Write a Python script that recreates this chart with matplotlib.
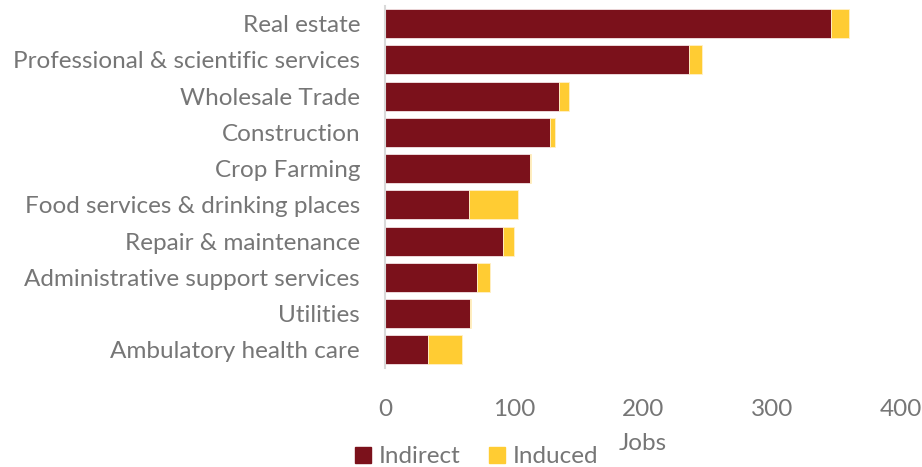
import matplotlib
matplotlib.use("Agg")
import matplotlib.pyplot as plt
from matplotlib.patches import Patch

plt.rcParams['font.family'] = ['Lato', 'DejaVu Sans']

industries = [
    "Real estate",
    "Professional & scientific services",
    "Wholesale Trade",
    "Construction",
    "Crop Farming",
    "Food services & drinking places",
    "Repair & maintenance",
    "Administrative support services",
    "Utilities",
    "Ambulatory health care",
]
indirect = [346, 236, 135, 128, 112.6, 65, 91.7, 71.3, 66.1, 33.3]
induced = [14, 9.5, 7.3, 3.7, 0.5, 38.5, 8.6, 9.8, 0.8, 26.3]
xticks = [0, 100, 200, 300, 400]

c_indirect = "#7B111B"
c_induced = "#FFCC33"
text_color = "#767676"
fs = 17.5

fig = plt.figure(figsize=(9.22, 4.67), dpi=100)
ax = fig.add_axes([0.4176, 0.212, 0.5594, 0.776])

ypos = list(range(len(industries)))
ax.barh(ypos, indirect, height=0.8, color=c_indirect, edgecolor="#f3e4e5", linewidth=0.6)
ax.barh(ypos, induced, left=indirect, height=0.8, color=c_induced, edgecolor="#fff0c8", linewidth=0.6)

ax.set_ylim(len(industries) - 0.5, -0.5)
ax.set_xlim(0, 400)
ax.set_yticks(ypos)
ax.set_yticklabels(industries)
ax.set_xticks(xticks)
ax.set_xticklabels([str(t) for t in xticks])

ax.tick_params(axis="y", length=0, pad=18, labelsize=fs, labelcolor=text_color)
ax.tick_params(axis="x", length=0, pad=22, labelsize=fs, labelcolor=text_color)

for side in ["top", "right", "bottom"]:
    ax.spines[side].set_visible(False)
ax.spines["left"].set_color("#d9d9d9")
ax.spines["left"].set_linewidth(1.5)

ax.set_xlabel("Jobs", fontsize=fs, color=text_color, labelpad=10)

handles = [Patch(color=c_indirect, label="Indirect"), Patch(color=c_induced, label="Induced")]
fig.legend(handles=handles, loc="center", bbox_to_anchor=(0.517, 0.022), ncol=2,
           frameon=False, fontsize=fs, labelcolor=text_color,
           handlelength=0.65, handleheight=0.65, handletextpad=0.3, columnspacing=1.2,
           borderpad=0)

fig.savefig("out.png", dpi=100)
